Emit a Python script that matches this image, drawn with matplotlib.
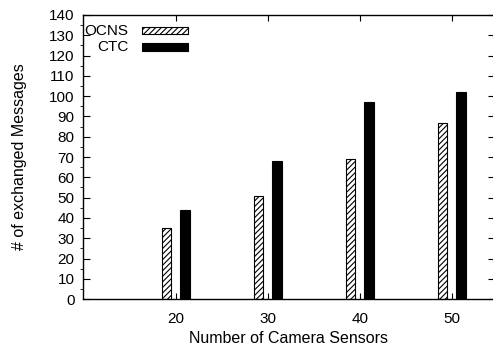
import matplotlib
matplotlib.use("Agg")
import matplotlib.pyplot as plt
from matplotlib.ticker import MultipleLocator
from matplotlib.patches import Rectangle

plt.rcParams['font.family'] = ['Liberation Sans', 'DejaVu Sans']
plt.rcParams['hatch.linewidth'] = 0.8

sensors = [20, 30, 40, 50]
ocns = [35, 51, 69, 87]
ctc = [44, 68, 97, 102]
series_labels = ["OCNS", "CTC"]

fig = plt.figure(figsize=(4.93, 3.47), dpi=100)
ax = fig.add_axes([0.168, 0.138, 0.836, 0.819])

ax.bar([s - 1.03 for s in sensors], ocns, width=1.0, facecolor='white',
       edgecolor='black', hatch='//////', linewidth=0.8, label=series_labels[0])
ax.bar([s + 1.0 for s in sensors], ctc, width=1.05, facecolor='black',
       edgecolor='black', linewidth=0.8, label=series_labels[1])

ax.set_xlim(9.9, 54.7)
ax.set_ylim(0, 140)
ax.set_xticks(sensors)
ax.yaxis.set_major_locator(MultipleLocator(10))
ax.yaxis.set_minor_locator(MultipleLocator(5))
ax.tick_params(axis='both', direction='in', labelsize=11, width=0.8)
ax.tick_params(axis='y', which='both', right=True, pad=6)
ax.tick_params(axis='x', top=True, length=4, pad=9)
ax.tick_params(axis='y', which='major', length=5)
ax.tick_params(axis='y', which='minor', length=2.5)
for sp in ax.spines.values():
    sp.set_linewidth(1.0)

ax.set_xlabel("Number of Camera Sensors", fontsize=11.5, labelpad=4)
ax.set_ylabel("# of exchanged Messages", fontsize=11.5, labelpad=16)

# manual gnuplot-style key
ys = [0.944, 0.887]
styles = [dict(facecolor='white', hatch='//////'), dict(facecolor='black')]
for lab, yc, st in zip(series_labels, ys, styles):
    ax.text(0.111, yc, lab, transform=ax.transAxes, ha='right', va='center',
            fontsize=11)
    ax.add_patch(Rectangle((0.143, yc - 0.0125), 0.112, 0.025,
                           transform=ax.transAxes, edgecolor='black',
                           linewidth=0.8, clip_on=False, **st))

fig.savefig("out.png", dpi=100)
